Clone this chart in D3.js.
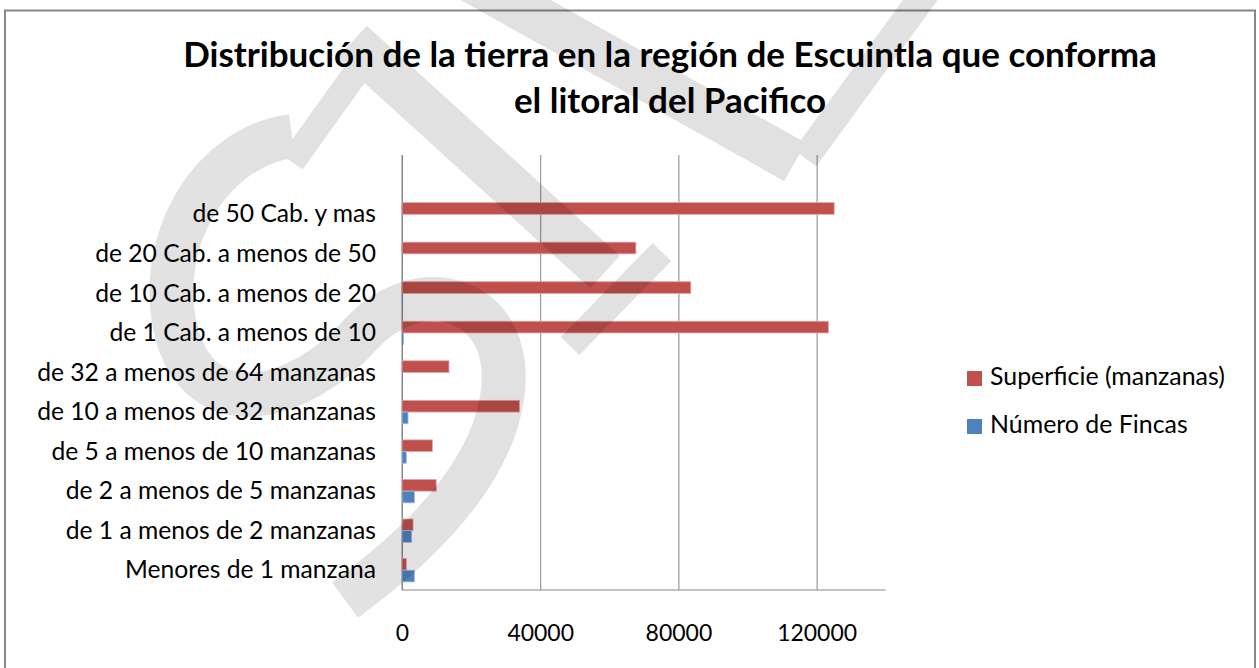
<!DOCTYPE html>
<html>
<head>
<meta charset="utf-8">
<script src="https://cdn.jsdelivr.net/npm/d3@7"></script>
<style>
  body { margin: 0; background: #fff; }
  svg { display: block; }
  text { font-family: Lato, "Open Sans", "DejaVu Sans", sans-serif; }
</style>
</head>
<body>
<svg id="chart" width="1259" height="668"></svg>
<script>
// Categories, bottom to top as they appear on the vertical axis
const categories = [
  "Menores de 1 manzana",
  "de 1 a menos de 2 manzanas",
  "de 2 a menos de 5 manzanas",
  "de 5 a menos de 10 manzanas",
  "de 10 a menos de 32 manzanas",
  "de 32 a menos de 64 manzanas",
  "de 1 Cab. a menos de 10",
  "de 10 Cab. a menos de 20",
  "de 20 Cab. a menos de 50",
  "de 50 Cab. y mas"
];
// Land area per size class (manzanas)
const superficie = [1250, 3200, 9900, 8800, 34000, 13600, 123400, 83600, 67700, 125100];
// Number of farms per size class
const numeroFincas = [3600, 2800, 3600, 1250, 1750, 120, 450, 150, 60, 20];
const seriesNames = ["Superficie (manzanas)", "Número de Fincas"];
const seriesColors = ["#C0504D", "#4F81BD"];
const seriesEdges = ["#e2a9a7", "#a9c0de"];
const xTicks = [0, 40000, 80000, 120000];
const xMax = 140000;
const titleLines = ["Distribución de la tierra en la región de Escuintla que conforma", "el litoral del Pacifico"];

const svg = d3.select("#chart");

// Outer chart frame
svg.append("rect")
  .attr("x", 5).attr("y", 10.5).attr("width", 1250).attr("height", 700)
  .attr("fill", "#fff").attr("stroke", "#878787").attr("stroke-width", 2);

// Plot area
const plot = { left: 402, right: 885.7, top: 155, bottom: 590 };
const slots = categories.length + 1;          // the top slot of the axis stays empty
const step = (plot.bottom - plot.top) / slots;

const x = d3.scaleLinear().domain([0, xMax]).range([plot.left, plot.right]);
const pad = 0.408;
const y = d3.scaleBand()
  .domain(categories)
  .range([plot.bottom, plot.bottom - categories.length * step])
  .paddingInner(pad).paddingOuter(pad / 2);
const ySub = d3.scaleBand().domain([0, 1]).range([0, y.bandwidth()]);

// Fit a font size so that a text reaches a target width
function fitSize(str, weight, target) {
  const t = svg.append("text").attr("font-size", 100).attr("font-weight", weight).text(str);
  const w = t.node().getComputedTextLength();
  t.remove();
  return 100 * target / w;
}

// Vertical gridlines + value axis
const gridG = svg.append("g").attr("transform", `translate(0,${plot.bottom})`);
const tickSize = fitSize("120000", 400, 80);
gridG.call(d3.axisBottom(x).tickValues(xTicks).tickFormat(d3.format("d")).tickSize(-(plot.bottom - plot.top)));
gridG.select(".domain").remove();
gridG.selectAll(".tick line").attr("stroke", "#878787").attr("stroke-width", 1);
gridG.selectAll(".tick text")
  .attr("y", 51).attr("dy", 0)
  .attr("font-size", tickSize).attr("fill", "#000")
  .style("font-family", "Lato, 'Open Sans', sans-serif");

// Axis lines
svg.append("line").attr("x1", plot.left).attr("x2", plot.left)
  .attr("y1", plot.top).attr("y2", plot.bottom).attr("stroke", "#878787");
svg.append("line").attr("x1", plot.left).attr("x2", plot.right)
  .attr("y1", plot.bottom).attr("y2", plot.bottom).attr("stroke", "#878787");

// Bars
const rows = categories.map((c, i) => ({ cat: c, vals: [superficie[i], numeroFincas[i]] }));
const groups = svg.append("g").selectAll("g").data(rows).join("g")
  .attr("transform", d => `translate(0,${y(d.cat)})`);
groups.selectAll("rect").data(d => d.vals.map((v, k) => ({ v, k }))).join("rect")
  .attr("x", x(0))
  .attr("y", d => ySub(d.k))
  .attr("width", d => x(d.v) - x(0))
  .attr("height", ySub.bandwidth())
  .attr("fill", d => seriesColors[d.k])
  .attr("stroke", d => (x(d.v) - x(0) > 2 ? seriesEdges[d.k] : "none"))
  .attr("stroke-width", 0.8);

// Category labels
const catSize = fitSize("de 32 a menos de 64 manzanas", 400, 339);
svg.append("g").selectAll("text").data(categories).join("text")
  .attr("x", 376)
  .attr("y", d => y(d) + y.bandwidth() / 2 + catSize * 0.33)
  .attr("text-anchor", "end")
  .attr("font-size", catSize)
  .attr("fill", "#000")
  .text(d => d);

// Title
const titleSize = fitSize(titleLines[0], 700, 974);
svg.append("g").selectAll("text").data(titleLines).join("text")
  .attr("x", 670)
  .attr("y", (d, i) => 67 + i * 46)
  .attr("text-anchor", "middle")
  .attr("font-weight", 700)
  .attr("font-size", titleSize)
  .attr("fill", "#000")
  .text(d => d);

// Legend
const legSize = fitSize(seriesNames[0], 400, 235);
const leg = svg.append("g").selectAll("g").data(seriesNames).join("g")
  .attr("transform", (d, i) => `translate(967,${371 + i * 48})`);
leg.append("rect").attr("width", 15).attr("height", 15)
  .attr("fill", (d, i) => seriesColors[i]);
leg.append("text").attr("x", 23).attr("y", 14)
  .attr("font-size", legSize).attr("fill", "#000")
  .text(d => d);

// Faint grey stamp strokes lying over the sheet
const stamp = svg.append("g").attr("opacity", 0.115).attr("fill", "none")
  .attr("stroke", "#000").attr("pointer-events", "none");
const stampStrokes = [
  { d: "M292,136 C205,148 152,250 178,338 C205,425 300,402 360,335 C420,268 518,298 502,398 C490,475 420,545 345,600", w: 44 },
  { d: "M352,42 L605,272", w: 44 },
  { d: "M378,42 L292,162", w: 26 },
  { d: "M662,252 L570,346", w: 26 },
  { d: "M470,-20 L795,162", w: 44 },
  { d: "M935,-20 L805,158", w: 28 }
];
stamp.selectAll("path").data(stampStrokes).join("path")
  .attr("d", s => s.d)
  .attr("stroke-width", s => s.w)
  .attr("stroke-linecap", "butt");
</script>
</body>
</html>
